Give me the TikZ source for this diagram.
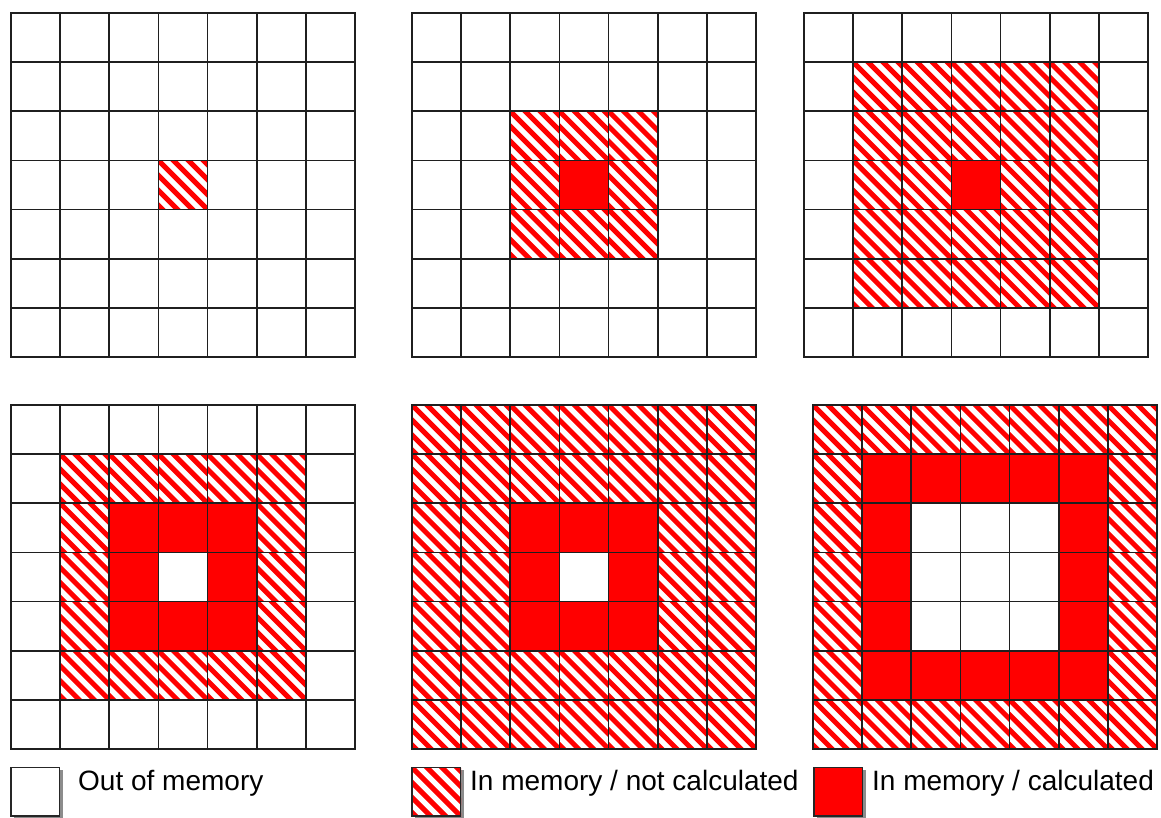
\documentclass[tikz,border=0pt]{standalone}
\usepackage{fontspec}
\setmainfont{Liberation Sans}
\tikzset{
  gridline/.style={line width=1.6pt, draw=black!88, line cap=rect},
  stripe/.style={draw=red, line width=5pt},
  redcell/.style={fill=red},
  legbox/.style={line width=1.3pt, draw=black!85},
  legshadow/.style={fill=black!45},
  legtext/.style={anchor=base west, inner sep=0pt, font=\fontsize{28}{34}\selectfont}
}
\def\cs{49.142857}
\newcommand\hatchcell[2]{%
  \begin{scope}
    \clip (#1,#2) rectangle ++(\cs,\cs);
    \foreach \c in {-60,-45,...,60}
      \draw[stripe] ({#1+\c-5},{#2-5}) -- ++({\cs+10},{\cs+10});
  \end{scope}}
\begin{document}
\begin{tikzpicture}[x=1pt,y=-1pt]
\useasboundingbox (0,0) rectangle (1161,817);
\fill[white] (0,0) rectangle (1161,817);
\foreach \gx/\gy/\h/\r/\w in {11/13/0/-1/0, 412/13/1/0/0, 804/13/2/0/0, 11/405/2/1/1, 412/405/3/1/1, 813/405/3/2/2}{
  \foreach \i in {0,...,6}{
    \foreach \j in {0,...,6}{
      \pgfmathtruncatemacro\d{max(abs(\i-3),abs(\j-3))}
      \pgfmathsetmacro\cx{\gx+\i*\cs}
      \pgfmathsetmacro\cy{\gy+\j*\cs}
      \ifnum\d<\w\relax
      \else
        \ifnum\d>\h\relax
        \else
          \ifnum\d>\r\relax
            \hatchcell{\cx}{\cy}
          \else
            \fill[redcell] (\cx,\cy) rectangle ++(\cs,\cs);
          \fi
        \fi
      \fi
    }
  }
  \foreach \k in {0,...,7}{
    \draw[gridline] ({\gx+\k*\cs},\gy) -- ({\gx+\k*\cs},{\gy+7*\cs});
    \draw[gridline] (\gx,{\gy+\k*\cs}) -- ({\gx+7*\cs},{\gy+\k*\cs});
  }
}
% legend
\fill[legshadow] (14,770) rectangle (62.5,820);
\draw[legbox, fill=white] (11,767.5) rectangle (59.5,816);
\node[legtext] (outmem) at (78,790) {Out of memory};

\fill[legshadow] (415,770) rectangle (463.5,820);
\fill[white] (412,767.5) rectangle (460.5,816);
\hatchcell{412}{767.5}
\draw[legbox] (412,767.5) rectangle (460.5,816);
\node[legtext] (notcalc) at (470,790) {In memory / not calculated};

\fill[legshadow] (817,770) rectangle (865.5,820);
\draw[legbox, fill=red] (814,767.5) rectangle (862.5,816);
\node[legtext] (calc) at (872,790) {In memory / calculated};
\end{tikzpicture}
\end{document}
